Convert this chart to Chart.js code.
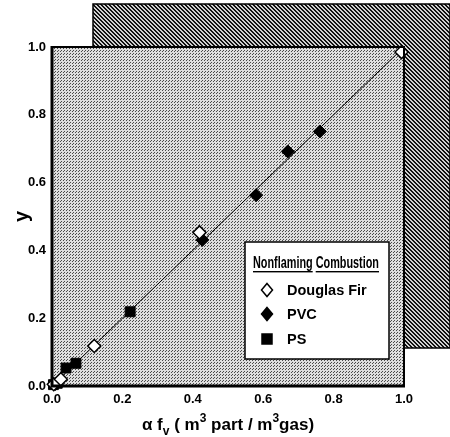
<!DOCTYPE html>
<html>
<head>
<meta charset="utf-8">
<script src="https://cdn.jsdelivr.net/npm/chart.js@4"></script>
<style>
  html, body { margin: 0; padding: 0; background: #fff; }
  #wrap { width: 450px; height: 437px; }
</style>
</head>
<body>
<div id="wrap"><canvas id="chart" width="450" height="437"></canvas></div>
<script>
// values
const seriesNames = ['Douglas Fir', 'PVC', 'PS'];
const firX = [0.005, 0.025, 0.12, 0.419, 0.993];
const firY = [0.005, 0.020, 0.118, 0.453, 0.985];
const pvcX = [0.010, 0.427, 0.580, 0.670, 0.761];
const pvcY = [0.006, 0.431, 0.563, 0.692, 0.751];
const psX = [0.004, 0.015, 0.040, 0.068, 0.222];
const psY = [0.004, 0.008, 0.053, 0.067, 0.219];
const fitX = [0, 1];
const fitY = [0, 1];
const axisTicks = [0, 0.2, 0.4, 0.6, 0.8, 1.0];
const legendTitle = 'Nonflaming Combustion';

function toPoints(xs, ys) {
  return xs.map((x, i) => ({ x: x, y: ys[i] }));
}

// textures for the printed look
function makeStipple() {
  const c = document.createElement('canvas');
  c.width = 3; c.height = 3;
  const g = c.getContext('2d');
  g.fillStyle = '#dedede';
  g.fillRect(0, 0, 3, 3);
  g.fillStyle = '#4a4a4a';
  g.fillRect(0, 0, 1, 1);
  g.fillRect(1, 2, 1, 1);
  return c;
}
function makeHatch() {
  const c = document.createElement('canvas');
  c.width = 4; c.height = 4;
  const g = c.getContext('2d');
  g.fillStyle = '#d0d0d0';
  g.fillRect(0, 0, 4, 4);
  g.fillStyle = '#111';
  for (let i = 0; i < 4; i++) {
    g.fillRect(i, i, 1, 1);
    g.fillRect((i + 1) % 4, i, 1, 1);
  }
  return c;
}

const ctx = document.getElementById('chart');
const pctx = ctx.getContext('2d');
const stipple = pctx.createPattern(makeStipple(), 'repeat');
const hatch = pctx.createPattern(makeHatch(), 'repeat');

const backdrop = {
  id: 'backdrop',
  beforeDraw(chart) {
    const a = chart.chartArea;
    const c = chart.ctx;
    c.save();
    // shadow panel behind the plot
    const sx = a.left + 41, sy = 4, sw = chart.width - sx, sh = a.bottom - 38 - sy;
    c.fillStyle = hatch;
    c.fillRect(sx, sy, sw, sh);
    c.strokeStyle = '#000';
    c.lineWidth = 1.5;
    c.strokeRect(sx, sy, sw, sh);
    // plot area
    c.fillStyle = stipple;
    c.fillRect(a.left, a.top, a.right - a.left, a.bottom - a.top);
    c.restore();
  },
  afterDatasetsDraw(chart) {
    const a = chart.chartArea;
    const c = chart.ctx;
    c.save();
    c.strokeStyle = '#000';
    c.lineWidth = 2;
    c.strokeRect(a.left, a.top, a.right - a.left, a.bottom - a.top);
    c.lineWidth = 3;
    c.beginPath();
    c.moveTo(a.left, a.top - 1);
    c.lineTo(a.left, a.bottom);
    c.lineTo(a.right + 1, a.bottom);
    c.stroke();

    // legend box
    const lx = 245, ly = 242, lw = 144, lh = 117;
    c.fillStyle = '#fff';
    c.fillRect(lx, ly, lw, lh);
    c.lineWidth = 1.5;
    c.strokeRect(lx, ly, lw, lh);

    // condensed, underlined legend title
    c.fillStyle = '#000';
    c.font = 'bold 16px "Liberation Sans", Arial';
    c.textBaseline = 'alphabetic';
    c.textAlign = 'left';
    const words = legendTitle.split(' ');
    const fullW = c.measureText(legendTitle).width;
    const squeeze = 126 / fullW;
    c.save();
    c.translate(253, 268);
    c.scale(squeeze, 1);
    let cx = 0;
    words.forEach(w => {
      const wWidth = c.measureText(w).width;
      c.fillText(w, cx, 0);
      c.fillRect(cx, 3, wWidth, 1.4);
      cx += wWidth + c.measureText(' ').width;
    });
    c.restore();

    c.font = 'bold 14.5px "Liberation Sans", Arial';
    c.textBaseline = 'middle';
    const rows = [290, 314, 339];
    chart.data.datasets.slice(0, 3).forEach((ds, i) => {
      const mx = 267, my = rows[i];
      c.save();
      c.fillStyle = ds.pointBackgroundColor;
      c.strokeStyle = '#000';
      c.lineWidth = 1.5;
      c.beginPath();
      if (ds.pointStyle === 'rect') {
        c.rect(mx - 5, my - 5, 10, 10);
      } else {
        c.moveTo(mx, my - 6.5);
        c.lineTo(mx + 5.5, my);
        c.lineTo(mx, my + 6.5);
        c.lineTo(mx - 5.5, my);
        c.closePath();
      }
      c.fill();
      c.stroke();
      c.restore();
      c.fillText(ds.label, 287, my + 1);
    });

    // x axis title with sub/superscripts
    const base = 430;
    const big = 'bold 17px "Liberation Sans", Arial';
    const small = 'bold 12px "Liberation Sans", Arial';
    const parts = [
      ['\u03b1 f', big, 0],
      ['v', small, 5],
      [' ( m', big, 0],
      ['3', small, -8],
      [' part / m', big, 0],
      ['3', small, -8],
      ['gas)', big, 0]
    ];
    c.textBaseline = 'alphabetic';
    let total = 0;
    parts.forEach(p => { c.font = p[1]; total += c.measureText(p[0]).width; });
    let px = (a.left + a.right) / 2 - total / 2;
    parts.forEach(p => {
      c.font = p[1];
      c.fillText(p[0], px, base + p[2]);
      px += c.measureText(p[0]).width;
    });
    c.restore();
  }
};

new Chart(ctx, {
  type: 'scatter',
  data: {
    datasets: [
      {
        label: seriesNames[0],
        data: toPoints(firX, firY),
        pointStyle: 'rectRot',
        pointRadius: 6.5,
        pointBackgroundColor: '#fff',
        pointBorderColor: '#000',
        pointBorderWidth: 1.5,
        clip: false
      },
      {
        label: seriesNames[1],
        data: toPoints(pvcX, pvcY),
        pointStyle: 'rectRot',
        pointRadius: 6.5,
        pointBackgroundColor: '#000',
        pointBorderColor: '#000',
        pointBorderWidth: 1,
        clip: false
      },
      {
        label: seriesNames[2],
        data: toPoints(psX, psY),
        pointStyle: 'rect',
        pointRadius: 7,
        pointBackgroundColor: '#000',
        pointBorderColor: '#000',
        pointBorderWidth: 1,
        clip: false
      },
      {
        label: 'fit',
        data: toPoints(fitX, fitY),
        showLine: true,
        borderColor: '#000',
        borderWidth: 1,
        pointRadius: 0,
        order: 10
      }
    ]
  },
  plugins: [backdrop],
  options: {
    responsive: false,
    animation: false,
    layout: { padding: { top: 47, right: 46, left: 0, bottom: 0 } },
    plugins: {
      legend: { display: false },
      tooltip: { enabled: false }
    },
    scales: {
      x: {
        type: 'linear',
        min: 0,
        max: 1,
        afterBuildTicks: s => { s.ticks = axisTicks.map(v => ({ value: v })); },
        afterFit: s => { s.height = 51; },
        grid: { display: false, drawTicks: false },
        border: { display: false },
        ticks: {
          padding: 6,
          color: '#000',
          font: { family: '"Liberation Sans", Arial', size: 13, weight: 'bold' },
          callback: v => v.toFixed(1)
        }
      },
      y: {
        type: 'linear',
        min: 0,
        max: 1,
        afterBuildTicks: s => { s.ticks = axisTicks.map(v => ({ value: v })); },
        afterFit: s => { s.width = 52; },
        grid: { display: false, drawTicks: false },
        border: { display: false },
        title: {
          display: true,
          text: 'y',
          color: '#000',
          font: { family: '"Liberation Sans", Arial', size: 20, weight: 'bold' },
          padding: { top: 10, bottom: 0 }
        },
        ticks: {
          padding: 6,
          color: '#000',
          font: { family: '"Liberation Sans", Arial', size: 13, weight: 'bold' },
          callback: v => v.toFixed(1)
        }
      }
    }
  }
});
</script>
</body>
</html>
